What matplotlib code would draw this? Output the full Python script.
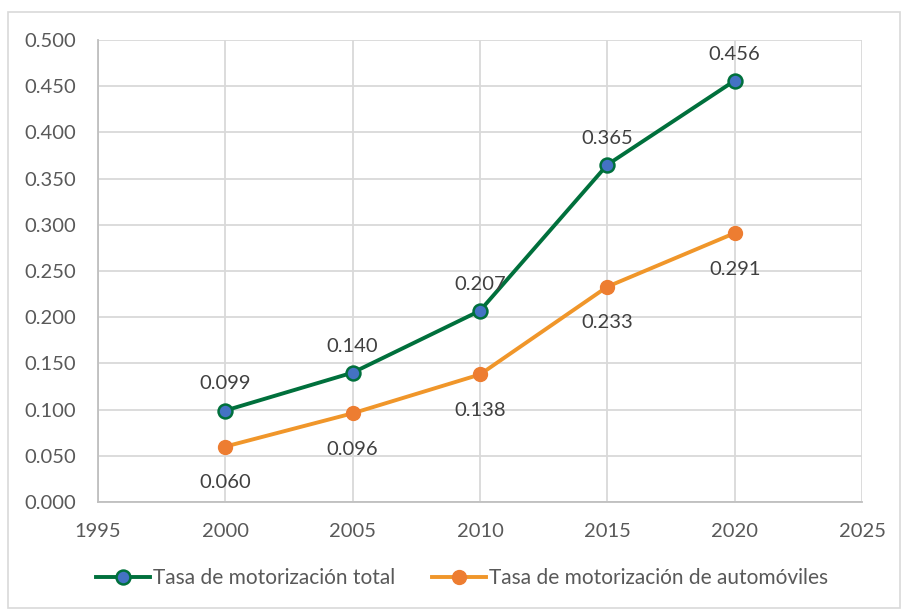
import matplotlib
matplotlib.use("Agg")
import matplotlib.pyplot as plt
from matplotlib.patches import Rectangle

years = [2000, 2005, 2010, 2015, 2020]
total = [0.099, 0.140, 0.207, 0.365, 0.456]
autos = [0.060, 0.096, 0.138, 0.233, 0.291]
total_labels = ["0.099", "0.140", "0.207", "0.365", "0.456"]
autos_labels = ["0.060", "0.096", "0.138", "0.233", "0.291"]
x_ticks = [1995, 2000, 2005, 2010, 2015, 2020, 2025]
y_ticks = [0.0, 0.05, 0.10, 0.15, 0.20, 0.25, 0.30, 0.35, 0.40, 0.45, 0.50]
series_names = ["Tasa de motorización total", "Tasa de motorización de automóviles"]

plt.rcParams['font.family'] = ['Lato', 'DejaVu Sans']
txt = '#595959'
W, H = 902, 610
fig = plt.figure(figsize=(W / 100, H / 100), dpi=100)
fig.patches.append(Rectangle((8 / W, 2 / H), (W - 10) / W, (H - 14) / H, transform=fig.transFigure,
                             fill=False, edgecolor='#D9D9D9', linewidth=1.2))
ax = fig.add_axes([98 / W, 1 - 502 / H, (862 - 98) / W, (502 - 40) / H])

ax.plot(years, total, color='#00703C', linewidth=2.8, marker='o', markersize=10,
        markerfacecolor='#4472C4', markeredgecolor='#00703C', markeredgewidth=1.8,
        label=series_names[0], zorder=3)
ax.plot(years, autos, color='#F0962A', linewidth=2.8, marker='o', markersize=10,
        markerfacecolor='#ED7D31', markeredgecolor='#ED7D31', markeredgewidth=1.0,
        label=series_names[1], zorder=3)

for x, y, s in zip(years, total, total_labels):
    ax.annotate(s, (x, y), xytext=(0, 13), textcoords='offset points', ha='center', va='bottom',
                fontsize=14.5, color='#404040')
for x, y, s in zip(years, autos, autos_labels):
    ax.annotate(s, (x, y), xytext=(0, -20), textcoords='offset points', ha='center', va='top',
                fontsize=14.5, color='#404040')

ax.set_xlim(1995, 2025)
ax.set_ylim(0, 0.5)
ax.set_xticks(x_ticks)
ax.set_yticks(y_ticks)
ax.set_yticklabels([f"{v:.3f}" for v in y_ticks])
ax.tick_params(axis='both', length=0, labelsize=14.5, colors=txt)
ax.tick_params(axis='x', pad=15)
ax.tick_params(axis='y', pad=16)
ax.grid(True, color='#D9D9D9', linewidth=1.3)
ax.set_axisbelow(True)
for side in ['top', 'right']:
    ax.spines[side].set_visible(False)
for side in ['left', 'bottom']:
    ax.spines[side].set_color('#BFBFBF')
    ax.spines[side].set_linewidth(1.3)

leg = fig.legend(loc='center', bbox_to_anchor=(462 / W, 1 - 578 / H), ncol=2, frameon=False,
                 fontsize=15, labelcolor=txt, handlelength=2.6, handletextpad=0.1, columnspacing=1.8)
fig.savefig("out.png", dpi=100)
